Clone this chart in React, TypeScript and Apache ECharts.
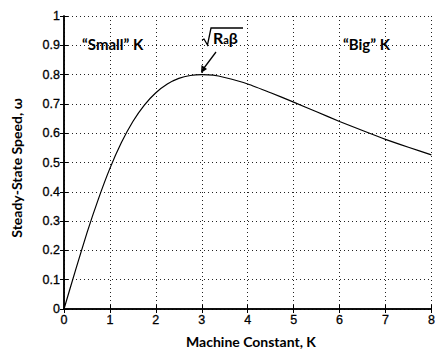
import React, { useEffect, useRef } from "react";
import * as echarts from "echarts";

const kValues = [0, 0.25, 0.5, 0.75, 1, 1.25, 1.5, 1.75, 2, 2.25, 2.5, 2.75, 3, 3.25, 3.5, 4, 4.5, 5, 5.5, 6, 6.5, 7, 7.5, 8];
const omegaValues = [0, 0.132, 0.26, 0.376, 0.48, 0.568, 0.64, 0.696, 0.738, 0.768, 0.787, 0.797, 0.8, 0.798, 0.79, 0.768, 0.738, 0.706, 0.673, 0.64, 0.609, 0.579, 0.552, 0.526];
const xTicks = { min: 0, max: 8, interval: 1 };
const yTicks = { min: 0, max: 1, interval: 0.1 };
const xLabel = "Machine Constant, K";
const yLabel = "Steady-State Speed, ω";
const smallLabel = "“Small” K";
const bigLabel = "“Big” K";

export default function App() {
  const ref = useRef<HTMLDivElement>(null);
  useEffect(() => {
    if (!ref.current) return;
    const chart = echarts.init(ref.current, null, { renderer: "svg" });
    const tickFont = { color: "#000", fontFamily: "Liberation Sans", fontSize: 12.5, textBorderColor: "#000", textBorderWidth: 0.3 };
    const nameFont = "Lato";
    chart.setOption({
      animation: false,
      grid: { left: 64, right: 1, top: 16, bottom: 41 },
      xAxis: [
        {
          type: "value",
          min: xTicks.min,
          max: xTicks.max,
          interval: xTicks.interval,
          axisLine: { lineStyle: { color: "#000", width: 1.5 } },
          axisTick: { inside: true, length: 4, lineStyle: { color: "#000" } },
          axisLabel: { ...tickFont, margin: 4 },
          splitLine: { show: true, lineStyle: { color: "#222", type: [1, 3], width: 1 } },
        },
        {
          type: "value",
          position: "top",
          min: xTicks.min,
          max: xTicks.max,
          interval: xTicks.interval,
          axisLine: { show: true, lineStyle: { color: "#000", width: 1.5 } },
          axisTick: { inside: true, length: 4, lineStyle: { color: "#000" } },
          axisLabel: { show: false },
          splitLine: { show: false },
        },
      ],
      yAxis: [
        {
          type: "value",
          min: yTicks.min,
          max: yTicks.max,
          interval: yTicks.interval,
          axisLine: { show: true, lineStyle: { color: "#000", width: 1.5 } },
          axisTick: { show: true, inside: true, length: 4, lineStyle: { color: "#000" } },
          axisLabel: { ...tickFont, margin: 4 },
          splitLine: { show: true, lineStyle: { color: "#222", type: [1, 3], width: 1 } },
        },
        {
          type: "value",
          position: "right",
          min: yTicks.min,
          max: yTicks.max,
          interval: yTicks.interval,
          axisLine: { show: true, lineStyle: { color: "#000", width: 1.5 } },
          axisTick: { show: true, inside: true, length: 4, lineStyle: { color: "#000" } },
          axisLabel: { show: false },
          splitLine: { show: false },
        },
      ],
      series: [
        {
          type: "line",
          data: kValues.map((k, i) => [k, omegaValues[i]]),
          showSymbol: false,
          smooth: 0.2,
          lineStyle: { color: "#000", width: 1.2 },
        },
      ],
      graphic: [
        {
          type: "text",
          x: 16,
          y: 168,
          rotation: Math.PI / 2,
          style: {
            text: yLabel,
            fontFamily: nameFont,
            fontWeight: "bold",
            fontSize: 14,
            fill: "#000",
            align: "center",
            verticalAlign: "middle",
          },
        },
        {
          type: "text",
          x: 251,
          y: 341,
          style: {
            text: xLabel,
            fontFamily: nameFont,
            fontWeight: "bold",
            fontSize: 14,
            fill: "#000",
            align: "center",
            verticalAlign: "middle",
          },
        },
        {
          type: "text",
          x: 82,
          y: 44,
          style: {
            text: smallLabel,
            fontFamily: nameFont,
            fontWeight: "bold",
            fontSize: 15,
            fill: "#000",
            align: "left",
            verticalAlign: "middle",
          },
        },
        {
          type: "text",
          x: 343,
          y: 44,
          style: {
            text: bigLabel,
            fontFamily: nameFont,
            fontWeight: "bold",
            fontSize: 15,
            fill: "#000",
            align: "left",
            verticalAlign: "middle",
          },
        },
        {
          type: "polyline",
          shape: { points: [[202, 40], [204, 39], [207.5, 45], [211, 28], [243, 28]] },
          style: { stroke: "#000", lineWidth: 1.3, fill: null },
        },
        {
          type: "text",
          x: 213,
          y: 37.5,
          style: {
            rich: {
              b: { fontFamily: nameFont, fontWeight: "bold", fontSize: 16, fill: "#000" },
              s: { fontFamily: nameFont, fontWeight: "bold", fontSize: 11, fill: "#000", padding: [4, 0, 0, 0] },
            },
            text: "{b|R}{s|a}{b|β}",
            verticalAlign: "middle",
          },
        },
        {
          type: "line",
          shape: { x1: 216, y1: 52, x2: 204, y2: 68 },
          style: { stroke: "#000", lineWidth: 1.3 },
        },
        {
          type: "polygon",
          shape: { points: [[201, 73], [201.5, 65], [207, 69]] },
          style: { fill: "#000" },
        },
      ],
    });
    return () => chart.dispose();
  }, []);
  return <div ref={ref} style={{ width: 438, height: 350, position: "absolute", left: 0, top: 0, background: "#fff" }} />;
}
